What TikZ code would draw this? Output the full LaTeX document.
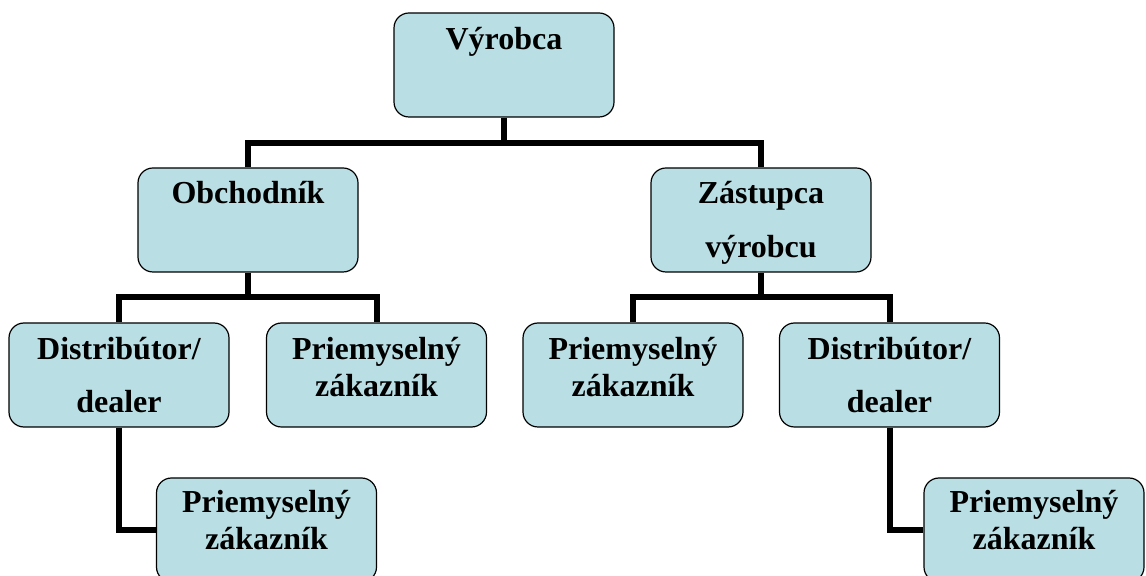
\documentclass[tikz,border=0pt]{standalone}
\usepackage{fontspec}
\setmainfont{Liberation Serif}
\usetikzlibrary{positioning}
\definecolor{boxfill}{RGB}{185,223,228}
\tikzset{
  box/.style={draw=black,line width=1.2bp,rounded corners=15bp,fill=boxfill,
    minimum width=220bp,minimum height=104bp,inner sep=0pt},
  lbl/.style={anchor=base,text width=220bp,align=center,inner sep=0pt,
    font=\bfseries\fontsize{32bp}{37bp}\selectfont},
  conn/.style={line width=6bp,line join=miter},
}
\begin{document}
\begin{tikzpicture}
    \clip (0bp,0bp) rectangle (1146bp,576bp);
    %%
    \node (vyrobca) at (504.0bp,511.0bp) [box] {};
    \node (obchodnik) at (248.0bp,356.0bp) [box] {};
    \node (zastupca) at (761.0bp,356.0bp) [box] {};
    \node (distr1) at (119.0bp,201.0bp) [box] {};
    \node (priem1) at (376.5bp,201.0bp) [box] {};
    \node (priem2) at (633.0bp,201.0bp) [box] {};
    \node (distr2) at (889.5bp,201.0bp) [box] {};
    \node (priem3) at (266.5bp,46.0bp) [box] {};
    \node (priem4) at (1034.0bp,46.0bp) [box] {};
    %% texts
    \node (vyrobca-t) at ([yshift=-37bp]vyrobca.north) [lbl] {Výrobca};
    \node (obchodnik-t) at ([yshift=-36bp]obchodnik.north) [lbl] {Obchodník};
    \node (zastupca-t) at ([yshift=-36bp]zastupca.north) [lbl] {Zástupca\\[17bp]výrobcu};
    \node (distr1-t) at ([yshift=-37bp]distr1.north) [lbl] {Distribútor/\\[16bp]dealer};
    \node (priem1-t) at ([yshift=-37bp]priem1.north) [lbl] {Priemyselný\\zákazník};
    \node (priem2-t) at ([yshift=-37bp]priem2.north) [lbl] {Priemyselný\\zákazník};
    \node (distr2-t) at ([yshift=-37bp]distr2.north) [lbl] {Distribútor/\\[16bp]dealer};
    \node (priem3-t) at ([yshift=-35bp]priem3.north) [lbl] {Priemyselný\\zákazník};
    \node (priem4-t) at ([yshift=-35bp]priem4.north) [lbl] {Priemyselný\\zákazník};
    %% connectors
    \coordinate (j1) at (504.0bp,433.0bp);
    \coordinate (j2) at (248.0bp,279.0bp);
    \coordinate (j3) at (761.0bp,279.0bp);
    \draw [conn] (vyrobca) -- (j1);
    \draw [conn] (obchodnik) |- (j1) -| (zastupca);
    \draw [conn] (obchodnik) -- (j2);
    \draw [conn] (distr1) |- (j2) -| (priem1);
    \draw [conn] (zastupca) -- (j3);
    \draw [conn] (priem2) |- (j3) -| (distr2);
    \draw [conn] (distr1) |- (priem3);
    \draw [conn] (distr2) |- (priem4);
    %
\end{tikzpicture}
\end{document}
